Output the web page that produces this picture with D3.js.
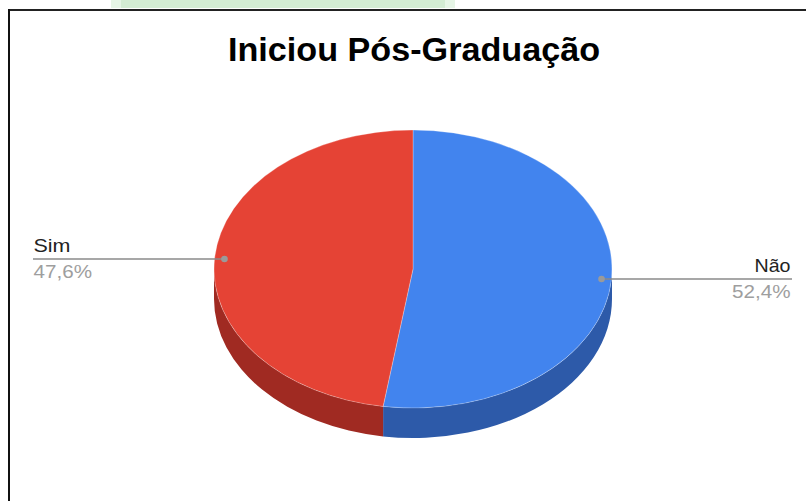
<!DOCTYPE html>
<html><head><meta charset="utf-8">
<script src="https://cdn.jsdelivr.net/npm/d3@7"></script>
<style>html,body{margin:0;padding:0;background:#fff;}svg{display:block;}</style>
</head><body>
<svg id="c" width="806" height="501"></svg>
<script>
const title = "Iniciou Pós-Graduação";
const categories = ["Não", "Sim"];
const values = [52.4, 47.6];
const percentLabels = ["52,4%", "47,6%"];
const topColors = ["#4284ee", "#e54335"];
const sideColors = ["#2d5aa9", "#a02a22"];

(function(){
const svg = d3.select("#c");
const W = 806, H = 501;

// background decorations (page behind chart)
svg.append("rect").attr("x",111).attr("y",0).attr("width",344).attr("height",8).attr("fill","#e6f5e6");
svg.append("rect").attr("x",121).attr("y",0).attr("width",324).attr("height",8).attr("fill","#d3ecd3");
// chart frame
svg.append("rect").attr("x",9).attr("y",9.5).attr("width",W).attr("height",H).attr("fill","#fff");
svg.append("line").attr("x1",8).attr("x2",W).attr("y1",10).attr("y2",10).attr("stroke","#222").attr("stroke-width",2);
svg.append("line").attr("x1",9).attr("x2",9).attr("y1",9).attr("y2",H).attr("stroke","#111").attr("stroke-width",2);

svg.append("text").attr("x",228).attr("y",61).attr("text-anchor","start")
  .attr("font-family","Liberation Sans, Arial, sans-serif").attr("font-weight","bold")
  .attr("font-size",32.5).attr("fill","#000")
  .attr("textLength",372).attr("lengthAdjust","spacingAndGlyphs").text(title);

const cx = 413, cy = 269, rx = 199, ry = 139, depth = 30;
const pie = d3.pie().sort(null).value(d => d);
const arcs = pie(values);

const pt = (a, dy) => [cx + rx*Math.sin(a), cy - ry*Math.cos(a) + dy];

// sides (front half: angles between PI/2 and 3PI/2)
const g = svg.append("g");
arcs.forEach((a, i) => {
  const a1 = Math.max(a.startAngle, Math.PI/2), a2 = Math.min(a.endAngle, 3*Math.PI/2);
  if (a2 <= a1) return;
  const s0 = pt(a1,0), e0 = pt(a2,0), e1 = pt(a2,depth), s1 = pt(a1,depth);
  const large = (a2 - a1) > Math.PI ? 1 : 0;
  const d = `M${s0}A${rx},${ry} 0 ${large} 1 ${e0}L${e1}A${rx},${ry} 0 ${large} 0 ${s1}Z`;
  g.append("path").attr("d", d).attr("fill", sideColors[i]);
});

// top faces
const arc = d3.arc().innerRadius(0).outerRadius(rx);
const topG = svg.append("g").attr("transform", `translate(${cx},${cy}) scale(1,${ry/rx})`);
topG.selectAll("path").data(arcs).join("path")
  .attr("d", arc).attr("fill", (d,i) => topColors[i])
  .attr("stroke", "#fff").attr("stroke-opacity", 0.35).attr("stroke-width", 0.8)
  .attr("vector-effect","non-scaling-stroke");

// labels
const font = "Liberation Sans, Arial, sans-serif";
const nameW = {"Não": 36, "Sim": 37};
arcs.forEach((a, i) => {
  const m = (a.startAngle + a.endAngle)/2;
  const dx = cx + 0.95*rx*Math.sin(m), dy = cy - 0.95*ry*Math.cos(m);
  const right = Math.sin(m) > 0;
  const lx = right ? 792 : 33;
  svg.append("line").attr("x1", dx).attr("y1", dy).attr("x2", lx).attr("y2", dy)
    .attr("stroke", "#8a8a8a").attr("stroke-width", 1.5);
  svg.append("circle").attr("cx", dx).attr("cy", dy).attr("r", 3.3).attr("fill", "#9a9a9a");
  const anchor = right ? "end" : "start";
  const tx = right ? 790.5 : 33.5;
  svg.append("text").attr("x", tx).attr("y", dy - 7).attr("text-anchor", anchor)
    .attr("font-family", font).attr("font-size", 18.5).attr("fill", "#222")
    .attr("textLength", nameW[categories[i]]).attr("lengthAdjust","spacingAndGlyphs")
    .text(categories[i]);
  svg.append("text").attr("x", tx).attr("y", dy + 19).attr("text-anchor", anchor)
    .attr("font-family", font).attr("font-size", 18.5).attr("fill", "#9e9e9e")
    .attr("textLength", 58.5).attr("lengthAdjust","spacingAndGlyphs")
    .text(percentLabels[i]);
});
})();
</script>
</body></html>
